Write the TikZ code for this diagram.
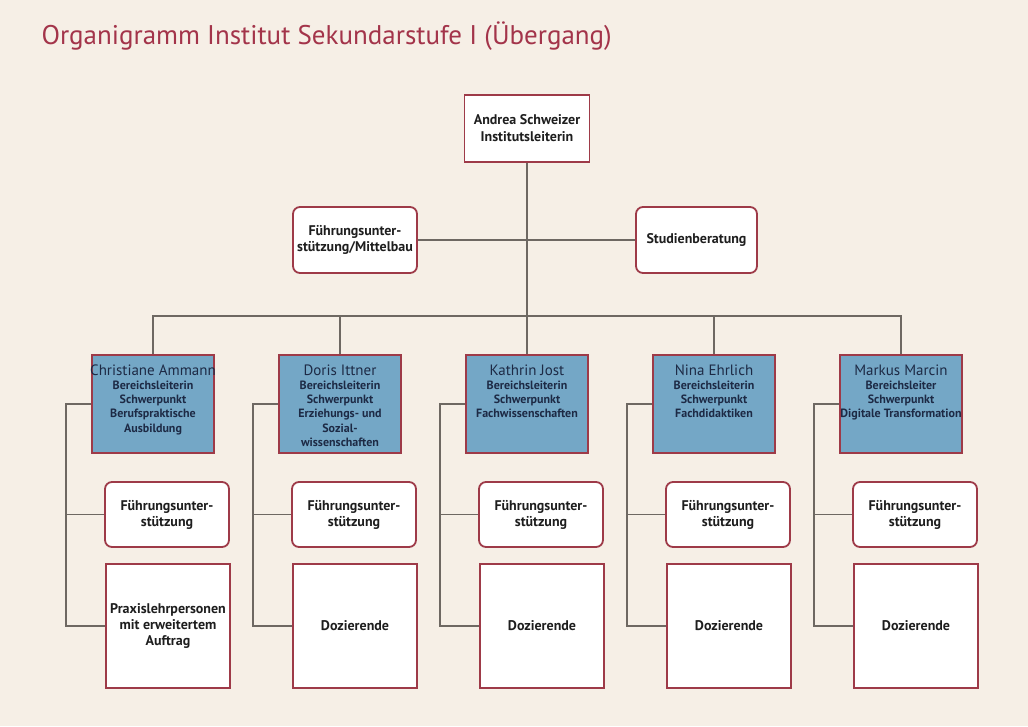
\documentclass[tikz,border=0pt]{standalone}
\usepackage{fontspec}
\setmainfont{PT Sans}
\usepackage{xcolor}

\definecolor{bgcream}{HTML}{F6EFE6}
\definecolor{boxred}{HTML}{9E3A48}
\definecolor{titlered}{HTML}{A3344A}
\definecolor{boxblue}{HTML}{74A7C6}
\definecolor{navytext}{HTML}{1D2A45}
\definecolor{linegray}{HTML}{6E6862}
\definecolor{boxtext}{HTML}{1E1E1E}

\newcommand{\titlefont}{\fontsize{27}{32}\selectfont}
\newcommand{\boxfont}{\fontsize{14}{16}\selectfont\bfseries}
\newcommand{\namefont}{\fontsize{15}{17}\selectfont}
\newcommand{\rolefont}{\fontsize{12}{14.3}\selectfont\bfseries}
\newcommand{\headinfo}[2]{\parbox[c][98pt][t]{122pt}{\centering\rule{0pt}{20pt}{\namefont\makebox[0pt]{#1}}\\\rolefont #2\par}}

\begin{document}
\begin{tikzpicture}[x=1pt, y=-1pt,
    conn/.style={draw=linegray, line width=1.3pt},
    plainbox/.style={draw=boxred, line width=1.8pt, fill=white, text=boxtext, align=center, inner sep=0pt, font=\boxfont},
    roundbox/.style={plainbox, rounded corners=7pt},
    fubox/.style={roundbox, minimum width=124pt, minimum height=65pt},
    dozbox/.style={plainbox, minimum width=124pt, minimum height=124pt},
    bluebox/.style={draw=boxred, line width=1.4pt, fill=boxblue, text=navytext, inner sep=0pt}]

    \fill[bgcream] (0, 0) rectangle (1028, 726);

    \node[anchor=base west, text=titlered, font=\titlefont] (title) at (38, 44) {Organigramm Institut Sekundarstufe I (Übergang)};

    \node[plainbox, minimum width=125pt, minimum height=67pt, font=\fontsize{14}{17}\selectfont\bfseries] (top) at (527, 128.5) {Andrea Schweizer\\Institutsleiterin};
    \node[roundbox, minimum width=124pt, minimum height=66pt] (fum) at (355, 240) {Führungsunter-\\stützung/Mittelbau};
    \node[roundbox, minimum width=121pt, minimum height=66pt] (stb) at (696.5, 240) {Studienberatung};

    \node[bluebox] (ca) at (153, 404) {\headinfo{Christiane Ammann}{Bereichsleiterin\\Schwerpunkt\\Berufspraktische\\Ausbildung}};
    \node[bluebox] (di) at (340, 404) {\headinfo{Doris Ittner}{Bereichsleiterin\\Schwerpunkt\\Erziehungs- und\\Sozial-\\wissenschaften}};
    \node[bluebox] (kj) at (527, 404) {\headinfo{Kathrin Jost}{Bereichsleiterin\\Schwerpunkt\\Fachwissenschaften}};
    \node[bluebox] (ne) at (714, 404) {\headinfo{Nina Ehrlich}{Bereichsleiterin\\Schwerpunkt\\Fachdidaktiken}};
    \node[bluebox] (mm) at (901, 404) {\headinfo{Markus Marcin}{Bereichsleiter\\Schwerpunkt\\\makebox[0pt]{Digitale Transformation}}};

    \node[fubox] (ca-fu) at (167, 514.5) {Führungsunter-\\stützung};
    \node[fubox] (di-fu) at (354, 514.5) {Führungsunter-\\stützung};
    \node[fubox] (kj-fu) at (541, 514.5) {Führungsunter-\\stützung};
    \node[fubox] (ne-fu) at (728, 514.5) {Führungsunter-\\stützung};
    \node[fubox] (mm-fu) at (915, 514.5) {Führungsunter-\\stützung};

    \node[dozbox] (ca-doz) at (168, 626) {Praxislehrpersonen\\mit erweitertem\\Auftrag};
    \node[dozbox] (di-doz) at (355, 626) {Dozierende};
    \node[dozbox] (kj-doz) at (542, 626) {Dozierende};
    \node[dozbox] (ne-doz) at (729, 626) {Dozierende};
    \node[dozbox] (mm-doz) at (916, 626) {Dozierende};

    % Leitung und Stab
    \coordinate (bus) at (527, 316);
    \draw[conn] (top.south) -- (kj.north);
    \draw[conn] (fum.east) -- (stb.west);

    % Bereiche
    \draw[conn] (ca.north) |- (bus) -| (mm.north);
    \draw[conn] (di.north) -- (di.north |- bus);
    \draw[conn] (ne.north) -- (ne.north |- bus);

    % Zuordnung je Bereich
    \coordinate (ca-rail) at (66, 404);
    \coordinate (di-rail) at (253, 404);
    \coordinate (kj-rail) at (440, 404);
    \coordinate (ne-rail) at (627, 404);
    \coordinate (mm-rail) at (814, 404);

    \draw[conn] (ca.west) -- (ca-rail) |- (ca-doz.west);
    \draw[conn] (ca-rail |- ca-fu.west) -- (ca-fu.west);
    \draw[conn] (di.west) -- (di-rail) |- (di-doz.west);
    \draw[conn] (di-rail |- di-fu.west) -- (di-fu.west);
    \draw[conn] (kj.west) -- (kj-rail) |- (kj-doz.west);
    \draw[conn] (kj-rail |- kj-fu.west) -- (kj-fu.west);
    \draw[conn] (ne.west) -- (ne-rail) |- (ne-doz.west);
    \draw[conn] (ne-rail |- ne-fu.west) -- (ne-fu.west);
    \draw[conn] (mm.west) -- (mm-rail) |- (mm-doz.west);
    \draw[conn] (mm-rail |- mm-fu.west) -- (mm-fu.west);

\end{tikzpicture}
\end{document}
